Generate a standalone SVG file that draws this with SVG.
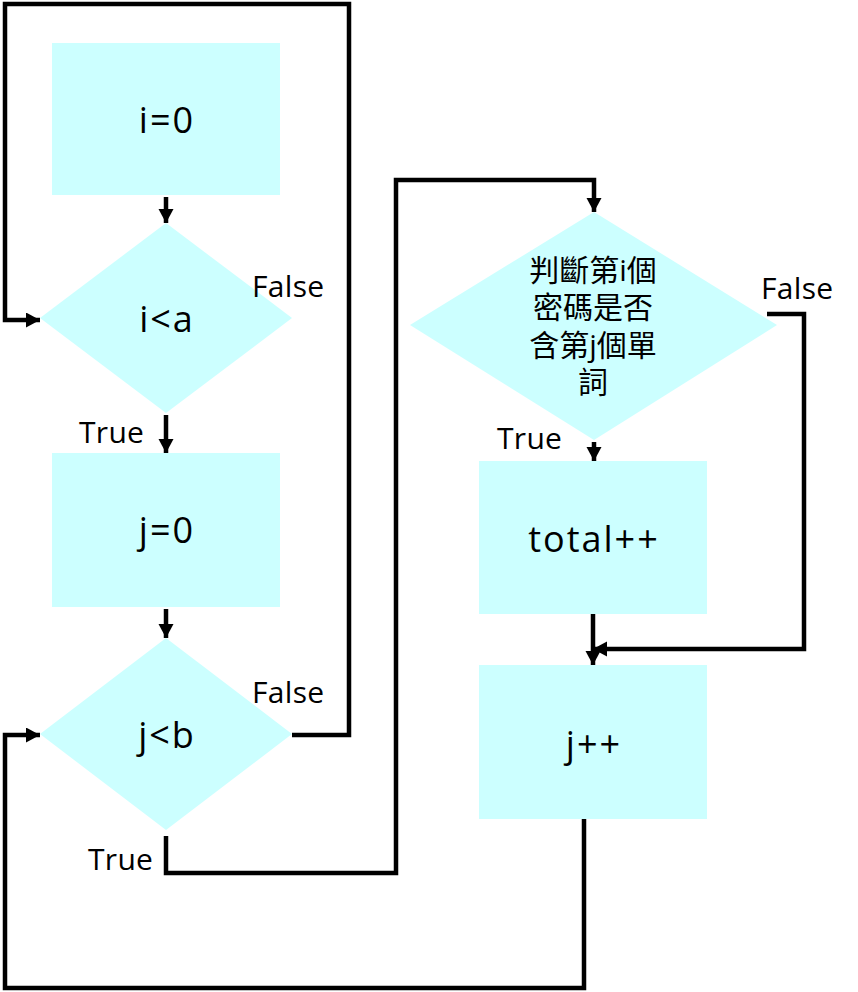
<svg xmlns="http://www.w3.org/2000/svg" width="858" height="992" viewBox="0 0 858 992">
<style>
.box{fill:#ccffff}
.lbl{font-family:"Open Sans","Liberation Sans",sans-serif;font-size:36px;fill:#000;text-anchor:middle;letter-spacing:2px}
.tf{font-family:"Open Sans","Liberation Sans",sans-serif;font-size:30px;fill:#000;letter-spacing:0.3px}
.cjk{font-family:"Open Sans","Noto Sans CJK TC",sans-serif;font-size:30px;fill:#000;text-anchor:middle}
.ln{fill:none;stroke:#000;stroke-width:4.5;stroke-linejoin:miter}
</style>
<defs>
<marker id="ah" markerUnits="userSpaceOnUse" markerWidth="16" markerHeight="16" refX="14" refY="7.5" orient="auto">
<path d="M0,0 L14,7.5 L0,15 z" fill="#000"/>
</marker>
</defs>
<rect width="858" height="992" fill="#fff"/>
<g id="n-i0"><rect class="box" x="52" y="43" width="228" height="152"/><text class="lbl" x="167" y="133">i=0</text></g>
<g id="n-ia"><polygon class="box" points="166,223 292,318 166,413 40,318"/><text class="lbl" x="167" y="332">i&lt;a</text></g>
<g id="n-j0"><rect class="box" x="52" y="453" width="228" height="154"/><text class="lbl" x="167" y="543">j=0</text></g>
<g id="n-jb"><polygon class="box" points="166,638 292,734 166,830 40,734"/><text class="lbl" x="167" y="748">j&lt;b</text></g>
<g id="n-check"><polygon class="box" points="594,212 777,325 594,440 410,325"/>
<text class="cjk" x="593" y="281">判斷第i個</text>
<text class="cjk" x="593" y="318">密碼是否</text>
<text class="cjk" x="593" y="356">含第j個單</text>
<text class="cjk" x="593" y="393">詞</text></g>
<g id="n-total"><rect class="box" x="479" y="461" width="228" height="153"/><text class="lbl" x="594" y="552">total++</text></g>
<g id="n-jpp"><rect class="box" x="479" y="665" width="228" height="154"/><text class="lbl" x="594" y="757">j++</text></g>
<g id="labels">
<text class="tf" x="252" y="297">False</text>
<text class="tf" x="79" y="443">True</text>
<text class="tf" x="252" y="703">False</text>
<text class="tf" x="88" y="870">True</text>
<text class="tf" x="761" y="299">False</text>
<text class="tf" x="497" y="449">True</text>
</g>
<g id="connectors">
<path class="ln" d="M166,197 L166,223" marker-end="url(#ah)"/>
<path class="ln" d="M166,415 L166,453" marker-end="url(#ah)"/>
<path class="ln" d="M166,609 L166,638" marker-end="url(#ah)"/>
<path class="ln" d="M292,735 L349,735 L349,4 L5,4 L5,320 L40,320" marker-end="url(#ah)"/>
<path class="ln" d="M166,836 L166,873 L396,873 L396,180 L594,180 L594,212" marker-end="url(#ah)"/>
<path class="ln" d="M767,314 L804,314 L804,649 L593,649" marker-end="url(#ah)"/>
<path class="ln" d="M594,442 L594,461" marker-end="url(#ah)"/>
<path class="ln" d="M593,614 L593,665" marker-end="url(#ah)"/>
<path class="ln" d="M584,819 L584,988 L5,988 L5,735 L40,735" marker-end="url(#ah)"/>
</g>
</svg>
